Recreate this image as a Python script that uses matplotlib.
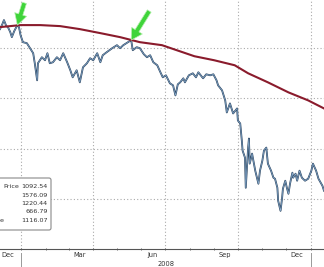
import matplotlib
matplotlib.use("Agg")
import matplotlib.pyplot as plt
import matplotlib.dates as mdates
import pandas as pd
from matplotlib.patches import FancyBboxPatch

# price trace
price_dates = ["2007-12-05", "2007-12-08", "2007-12-10", "2007-12-13", "2007-12-15", "2007-12-18",
               "2007-12-20", "2007-12-23", "2007-12-27", "2007-12-29", "2007-12-31", "2008-01-03",
               "2008-01-08", "2008-01-12", "2008-01-16", "2008-01-18", "2008-01-21", "2008-01-22",
               "2008-01-27", "2008-01-31", "2008-02-03", "2008-02-06", "2008-02-10", "2008-02-15",
               "2008-02-19", "2008-02-23", "2008-02-28", "2008-03-03", "2008-03-06", "2008-03-11",
               "2008-03-15", "2008-03-19", "2008-03-24", "2008-03-28", "2008-04-01", "2008-04-06",
               "2008-04-10", "2008-04-13", "2008-04-18", "2008-04-25", "2008-05-01", "2008-05-05",
               "2008-05-09", "2008-05-15", "2008-05-19", "2008-05-21", "2008-05-26", "2008-05-30",
               "2008-06-04", "2008-06-08", "2008-06-12", "2008-06-16", "2008-06-21", "2008-06-25",
               "2008-06-28", "2008-07-02", "2008-07-07", "2008-07-11", "2008-07-14", "2008-07-17",
               "2008-07-20", "2008-07-24", "2008-07-26", "2008-07-31", "2008-08-05", "2008-08-09",
               "2008-08-12", "2008-08-15", "2008-08-18", "2008-08-22", "2008-08-27", "2008-08-31",
               "2008-09-04", "2008-09-06", "2008-09-11", "2008-09-15", "2008-09-17", "2008-09-21",
               "2008-09-25", "2008-09-30", "2008-10-01", "2008-10-04", "2008-10-06", "2008-10-07",
               "2008-10-10", "2008-10-11", "2008-10-14", "2008-10-15", "2008-10-16", "2008-10-19",
               "2008-10-23", "2008-10-27", "2008-10-29", "2008-11-01", "2008-11-03", "2008-11-06",
               "2008-11-08", "2008-11-12", "2008-11-15", "2008-11-17", "2008-11-20", "2008-11-21",
               "2008-11-24", "2008-11-26", "2008-11-27", "2008-11-30", "2008-12-02", "2008-12-04",
               "2008-12-06", "2008-12-09", "2008-12-10", "2008-12-13", "2008-12-15", "2008-12-18",
               "2008-12-21", "2008-12-25", "2008-12-29", "2009-01-02", "2009-01-04", "2009-01-08",
               "2009-01-11", "2009-01-16", "2009-01-18"]
prices = [1476, 1496, 1512, 1488, 1484, 1464, 1444, 1468, 1492, 1484, 1452, 1424,
          1420, 1400, 1380, 1340, 1272, 1340, 1364, 1352, 1380, 1340, 1344, 1364,
          1352, 1380, 1344, 1312, 1284, 1312, 1264, 1324, 1340, 1360, 1352, 1380,
          1344, 1372, 1384, 1400, 1412, 1400, 1412, 1424, 1432, 1392, 1404, 1400,
          1376, 1364, 1372, 1344, 1332, 1304, 1284, 1292, 1260, 1252, 1212, 1256,
          1264, 1280, 1264, 1292, 1300, 1284, 1304, 1292, 1280, 1296, 1292, 1296,
          1272, 1252, 1232, 1192, 1144, 1180, 1140, 1160, 1112, 1100, 1032, 992,
          964, 844, 1004, 1040, 940, 980, 912, 860, 912, 952, 992, 1004,
          940, 912, 884, 880, 844, 792, 752, 804, 840, 872, 844, 820,
          860, 904, 884, 900, 872, 912, 884, 872, 880, 912, 940, 912,
          880, 852, 832]

# moving average
ma_dates = ["2007-12-05", "2007-12-31", "2008-01-25", "2008-02-19", "2008-03-15", "2008-04-10",
            "2008-05-05", "2008-05-30", "2008-06-27", "2008-08-07", "2008-09-01", "2008-09-27",
            "2008-10-14", "2008-11-08", "2008-12-04", "2008-12-29", "2009-01-18"]
ma_values = [1484, 1492, 1492, 1488, 1476, 1460, 1444, 1424, 1412, 1368, 1352, 1332,
             1300, 1264, 1224, 1192, 1160]

# arrows where price touches the average
touch_dates = ["2007-12-27", "2008-05-19"]
touch_prices = [1492, 1432]

month_labels = ["Dec", "Mar", "Jun", "Sep", "Dec"]
label_dates = ["2007-12-15", "2008-03-15", "2008-06-15", "2008-09-15", "2008-12-15"]
quarter_starts = ["2008-01-01", "2008-04-01", "2008-07-01", "2008-10-01", "2009-01-01"]
y_grid = [800, 1000, 1200, 1400]

legend_labels = ["Price", "", "", "", "e"]
legend_values = ["1092.54", "1576.09", "1220.44", "666.79", "1116.07"]

W, H = 324, 267
fig = plt.figure(figsize=(W / 100, H / 100), dpi=100)
ax = fig.add_axes([0, 18 / H, 1, 249 / H])

px = pd.to_datetime(price_dates)
ax.plot(px, prices, color="#2c4560", lw=1.3, zorder=3)
ax.plot(px, prices, color="#8db2d6", lw=0.45, zorder=4)
ax.plot(pd.to_datetime(ma_dates), ma_values, color="#8a1b2c", lw=1.5, zorder=5)

ax.set_xlim(pd.Timestamp("2007-12-05"), pd.Timestamp("2009-01-18"))
ax.set_ylim(600, 1592)

grid_kw = dict(color="#aaaaaa", lw=0.8, linestyle=(0, (1, 2)), zorder=1)
for q in quarter_starts:
    ax.axvline(pd.Timestamp(q), **grid_kw)
for g in y_grid:
    ax.axhline(g, **grid_kw)

for s in ["top", "right", "left"]:
    ax.spines[s].set_visible(False)
ax.spines["bottom"].set_linestyle((0, (2, 1)))
ax.spines["bottom"].set_color("#555555")
ax.set_yticks([])
ax.xaxis.set_major_locator(mdates.MonthLocator())
ax.tick_params(axis="x", length=2, width=0.6, color="#555555", direction="inout", labelbottom=False)

xt = ax.get_xaxis_transform()
for lab, d in zip(month_labels, label_dates):
    ax.text(pd.Timestamp(d), -0.025, lab, transform=xt, ha="center", va="center",
            fontsize=4.8, color="#333333", family="DejaVu Sans")
ax.text(pd.Timestamp("2008-07-02"), -0.062, "2008", transform=xt, ha="center", va="center",
        fontsize=4.8, color="#333333", family="DejaVu Sans")
for q in [quarter_starts[0], quarter_starts[-1]]:
    ax.plot([pd.Timestamp(q)] * 2, [-0.015, -0.08], transform=xt, color="#999999",
            lw=0.7, clip_on=False)

for d, p, off in zip(touch_dates, touch_prices, [(5, 16), (13, 21)]):
    ax.annotate("", xy=(pd.Timestamp(d), p), xytext=off, textcoords="offset points",
                arrowprops=dict(facecolor="#3fd43a", edgecolor="#b5f0ad", lw=0.5,
                                width=3.2, headwidth=9, headlength=8), zorder=6)

# legend box in pixel coordinates
box = FancyBboxPatch((-10, H - 230), 61, 52, boxstyle="round,pad=0,rounding_size=2",
                     transform=None, facecolor="white", edgecolor="#8a8a8a", lw=0.8, zorder=7)
fig.patches.append(box)
for i, (lab, val) in enumerate(zip(legend_labels, legend_values)):
    y = H - 187 - i * 8.3
    fig.text(47.5 / W, y / H, val, ha="right", va="center", fontsize=4.6,
             color="#333333", family="DejaVu Sans", zorder=8)
    if lab:
        lx = 19.5 if i == 0 else 3.5
        fig.text(lx / W, y / H, lab, ha="right", va="center", fontsize=4.6,
                 color="#333333", family="DejaVu Sans", zorder=8)

fig.savefig("out.png", dpi=100)
